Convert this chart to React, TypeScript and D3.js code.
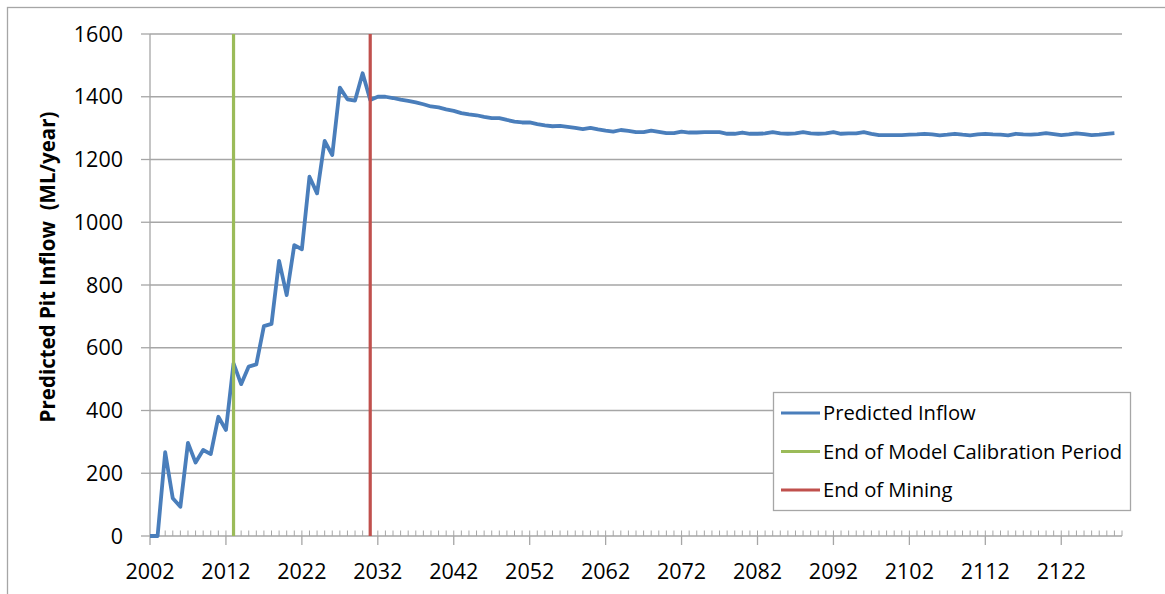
import React from "react";
import * as d3 from "d3";

const years: number[] = d3.range(2002, 2130);
const inflow: number[] = [
  0, 0, 267, 120, 93, 297, 234, 274, 261, 380,
  338, 550, 484, 540, 547, 669, 676, 877, 768, 927,
  914, 1145, 1092, 1259, 1214, 1429, 1392, 1388, 1475, 1390,
  1400, 1400, 1396, 1391, 1387, 1382, 1376, 1369, 1366, 1360,
  1355, 1348, 1344, 1341, 1336, 1332, 1332, 1326, 1321, 1318,
  1318, 1313, 1309, 1306, 1307, 1304, 1301, 1297, 1301, 1296,
  1292, 1289, 1294, 1291, 1287, 1287, 1292, 1288, 1284, 1284,
  1289, 1286, 1286, 1287, 1287, 1287, 1282, 1282, 1286, 1282,
  1282, 1283, 1287, 1283, 1282, 1283, 1287, 1283, 1282, 1283,
  1287, 1282, 1283, 1283, 1287, 1282, 1278, 1278, 1278, 1278,
  1279, 1280, 1282, 1280, 1277, 1279, 1282, 1279, 1277, 1280,
  1282, 1280, 1279, 1277, 1282, 1280, 1279, 1281, 1284, 1281,
  1278, 1280, 1283, 1281, 1278, 1279, 1282, 1284,
];
const xTickLabels: number[] = [2002, 2012, 2022, 2032, 2042, 2052, 2062, 2072, 2082, 2092, 2102, 2112, 2122];
const yTickLabels: number[] = [0, 200, 400, 600, 800, 1000, 1200, 1400, 1600];
const calibrationEnd = 2013;
const miningEnd = 2031;
const legendItems = [
  { label: "Predicted Inflow", color: "#4a7ebb" },
  { label: "End of Model Calibration Period", color: "#9bbb59" },
  { label: "End of Mining", color: "#c0504d" },
];

const FONT = "'Open Sans', 'Noto Sans', sans-serif";
const GRID = "#a6a6a6";

export default function App() {
  const x = d3.scaleLinear().domain([2002, 2130]).range([150, 1122]);
  const y = d3.scaleLinear().domain([0, 1600]).range([536, 34]);
  const line = d3
    .line<number>()
    .x((_, i) => x(years[i]))
    .y((d) => y(d));
  const minorYears = d3.range(2003, 2131);

  return (
    <svg
      width={1165}
      height={594}
      style={{ position: "absolute", left: 0, top: 0, background: "#fff" }}
    >
      <rect x={7.5} y={7.5} width={1300} height={700} fill="#fff" stroke={GRID} strokeWidth={1.3} />
      {/* gridlines */}
      {yTickLabels.map((v) => (
        <line key={"g" + v} x1={x(2002)} x2={x(2130)} y1={y(v)} y2={y(v)} stroke={GRID} strokeWidth={1.3} />
      ))}
      {/* y axis */}
      <line x1={x(2002)} x2={x(2002)} y1={y(0)} y2={y(1600)} stroke={GRID} strokeWidth={1.3} />
      {yTickLabels.map((v) => (
        <g key={"yt" + v}>
          <line x1={141} x2={x(2002)} y1={y(v)} y2={y(v)} stroke={GRID} strokeWidth={1.3} />
          <text x={123} y={y(v)} dy="0.36em" textAnchor="end" fontFamily={FONT} fontSize={21.5} fill="#000">
            {v}
          </text>
        </g>
      ))}
      {/* x axis */}
      {minorYears.map((yr) => (
        <line key={"m" + yr} x1={x(yr)} x2={x(yr)} y1={y(0) - 5.5} y2={y(0)} stroke={GRID} strokeWidth={1} />
      ))}
      {xTickLabels.map((yr) => (
        <g key={"xt" + yr}>
          <line x1={x(yr)} x2={x(yr)} y1={y(0)} y2={y(0) + 9} stroke={GRID} strokeWidth={1.3} />
          <text x={x(yr)} y={578.5} textAnchor="middle" fontFamily={FONT} fontSize={21.5} fill="#000">
            {yr}
          </text>
        </g>
      ))}
      {/* data */}
      <path d={line(inflow) || ""} fill="none" stroke="#4a7ebb" strokeWidth={3.8} strokeLinejoin="round" />
      <line x1={x(calibrationEnd)} x2={x(calibrationEnd)} y1={y(0)} y2={y(1600)} stroke="#9bbb59" strokeWidth={3.2} />
      <line x1={x(miningEnd)} x2={x(miningEnd)} y1={y(0)} y2={y(1600)} stroke="#c0504d" strokeWidth={3.2} />
      {/* y title */}
      <text
        transform="translate(47,267) rotate(-90)"
        textAnchor="middle"
        dominantBaseline="central"
        fontFamily={FONT}
        fontWeight="bold"
        fontSize={20.5}
        fill="#000"
        style={{ whiteSpace: "pre" }}
      >
        {"Predicted Pit Inflow  (ML/year)"}
      </text>
      {/* legend */}
      <rect x={773.5} y={392.5} width={357} height={118} fill="#fff" stroke={GRID} strokeWidth={1.3} />
      {legendItems.map((it, i) => {
        const ly = 413 + i * 38.5;
        return (
          <g key={it.label}>
            <line x1={781} x2={820} y1={ly} y2={ly} stroke={it.color} strokeWidth={3} />
            <text x={823} y={ly} dy="0.36em" fontFamily={FONT} fontSize={20.2} fill="#000">
              {it.label}
            </text>
          </g>
        );
      })}
    </svg>
  );
}
